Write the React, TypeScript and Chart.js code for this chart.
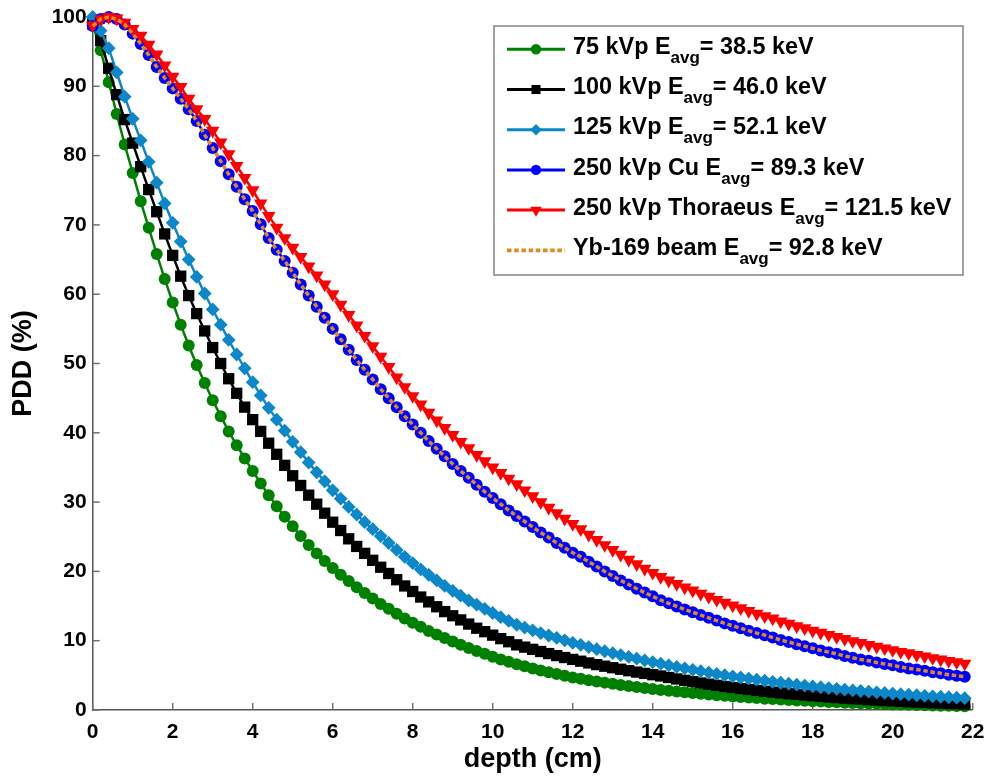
import React, { useEffect, useRef } from "react";
import { Chart, registerables } from "chart.js";

Chart.register(...registerables);

// ---------- DATA ----------
const depthCm = [
  0.0, 0.2, 0.4, 0.6, 0.8, 1.0, 1.2, 1.4, 1.6, 1.8,
  2.0, 2.2, 2.4, 2.6, 2.8, 3.0, 3.2, 3.4, 3.6, 3.8,
  4.0, 4.2, 4.4, 4.6, 4.8, 5.0, 5.2, 5.4, 5.6, 5.8,
  6.0, 6.2, 6.4, 6.6, 6.8, 7.0, 7.2, 7.4, 7.6, 7.8,
  8.0, 8.2, 8.4, 8.6, 8.8, 9.0, 9.2, 9.4, 9.6, 9.8,
  10.0, 10.2, 10.4, 10.6, 10.8, 11.0, 11.2, 11.4, 11.6, 11.8,
  12.0, 12.2, 12.4, 12.6, 12.8, 13.0, 13.2, 13.4, 13.6, 13.8,
  14.0, 14.2, 14.4, 14.6, 14.8, 15.0, 15.2, 15.4, 15.6, 15.8,
  16.0, 16.2, 16.4, 16.6, 16.8, 17.0, 17.2, 17.4, 17.6, 17.8,
  18.0, 18.2, 18.4, 18.6, 18.8, 19.0, 19.2, 19.4, 19.6, 19.8,
  20.0, 20.2, 20.4, 20.6, 20.8, 21.0, 21.2, 21.4, 21.6, 21.8,
];

const pdd75kVp = [
  99.0, 95.2, 90.6, 86.0, 81.6, 77.5, 73.4, 69.6, 65.8, 62.2,
  58.8, 55.6, 52.6, 49.8, 47.2, 44.7, 42.4, 40.2, 38.2, 36.3,
  34.5, 32.7, 31.0, 29.4, 27.9, 26.5, 25.1, 23.8, 22.6, 21.5,
  20.5, 19.5, 18.6, 17.7, 16.9, 16.1, 15.3, 14.6, 13.9, 13.2,
  12.6, 12.0, 11.4, 10.9, 10.4, 9.9, 9.4, 8.95, 8.5, 8.1,
  7.7, 7.3, 6.95, 6.6, 6.3, 6.0, 5.7, 5.45, 5.2, 4.95,
  4.7, 4.5, 4.3, 4.12, 3.95, 3.78, 3.62, 3.46, 3.31, 3.17,
  3.03, 2.9, 2.78, 2.66, 2.55, 2.44, 2.33, 2.23, 2.14, 2.05,
  1.96, 1.87, 1.79, 1.72, 1.64, 1.57, 1.5, 1.44, 1.38, 1.32,
  1.26, 1.21, 1.16, 1.11, 1.06, 1.01, 0.97, 0.93, 0.89, 0.85,
  0.81, 0.78, 0.74, 0.71, 0.68, 0.65, 0.62, 0.6, 0.57, 0.55,
];

const pdd100kVp = [
  99.0, 96.6, 92.6, 88.8, 85.2, 81.8, 78.4, 75.1, 71.9, 68.7,
  65.6, 62.6, 59.8, 57.2, 54.7, 52.3, 50.0, 47.8, 45.7, 43.7,
  41.9, 40.2, 38.5, 36.9, 35.3, 33.8, 32.4, 31.0, 29.7, 28.4,
  27.1, 25.9, 24.7, 23.6, 22.6, 21.6, 20.6, 19.7, 18.8, 17.9,
  17.1, 16.3, 15.6, 14.9, 14.2, 13.6, 13.0, 12.4, 11.8, 11.3,
  10.8, 10.3, 9.85, 9.4, 9.07, 8.75, 8.44, 8.14, 7.85, 7.57,
  7.3, 7.04, 6.79, 6.55, 6.32, 6.1, 5.88, 5.67, 5.47, 5.28,
  5.09, 4.91, 4.69, 4.48, 4.28, 4.09, 3.9, 3.73, 3.56, 3.4,
  3.25, 3.1, 2.96, 2.83, 2.7, 2.58, 2.46, 2.35, 2.25, 2.15,
  2.05, 1.96, 1.87, 1.79, 1.71, 1.63, 1.56, 1.49, 1.42, 1.36,
  1.3, 1.24, 1.18, 1.13, 1.08, 1.03, 0.98, 0.94, 0.9, 0.86,
];

const pdd125kVp = [
  100.0, 98.0, 95.5, 92.0, 88.5, 85.3, 82.2, 79.1, 76.1, 73.1,
  70.3, 67.6, 65.0, 62.5, 60.1, 57.8, 55.6, 53.4, 51.3, 49.3,
  47.3, 45.4, 43.6, 41.9, 40.3, 38.7, 37.2, 35.7, 34.3, 33.0,
  31.7, 30.5, 29.3, 28.2, 27.1, 26.1, 25.1, 24.1, 23.1, 22.1,
  21.2, 20.3, 19.5, 18.7, 17.9, 17.2, 16.5, 15.8, 15.2, 14.6,
  14.0, 13.4, 12.85, 12.3, 11.9, 11.5, 11.1, 10.75, 10.4, 10.05,
  9.7, 9.4, 9.08, 8.78, 8.48, 8.2, 7.92, 7.66, 7.4, 7.15,
  6.91, 6.68, 6.45, 6.22, 6.01, 5.8, 5.6, 5.4, 5.21, 5.03,
  4.86, 4.69, 4.53, 4.37, 4.22, 4.07, 3.93, 3.79, 3.65, 3.52,
  3.4, 3.28, 3.16, 3.05, 2.94, 2.84, 2.74, 2.64, 2.55, 2.46,
  2.37, 2.29, 2.21, 2.13, 2.05, 1.98, 1.91, 1.84, 1.78, 1.71,
];

const pdd250kVpCu = [
  98.7, 99.7, 100.0, 99.7, 98.9, 97.6, 96.1, 94.5, 92.8, 91.2,
  89.7, 88.2, 86.7, 85.0, 83.0, 81.1, 79.2, 77.3, 75.5, 73.7,
  72.0, 70.1, 68.1, 66.4, 64.8, 63.1, 61.4, 59.8, 58.2, 56.6,
  55.0, 53.5, 52.0, 50.5, 49.1, 47.7, 46.3, 45.0, 43.7, 42.4,
  41.2, 40.0, 38.8, 37.7, 36.6, 35.5, 34.5, 33.5, 32.5, 31.5,
  30.6, 29.7, 28.8, 28.0, 27.2, 26.4, 25.6, 24.9, 24.1, 23.4,
  22.7, 22.1, 21.4, 20.7, 20.0, 19.35, 18.7, 18.1, 17.5, 16.95,
  16.4, 15.85, 15.4, 14.95, 14.5, 14.1, 13.7, 13.3, 12.9, 12.5,
  12.15, 11.8, 11.45, 11.1, 10.8, 10.45, 10.1, 9.8, 9.5, 9.2,
  8.9, 8.6, 8.35, 8.1, 7.8, 7.55, 7.3, 7.1, 6.85, 6.65,
  6.45, 6.2, 6.0, 5.85, 5.65, 5.45, 5.3, 5.1, 4.95, 4.8,
];

const pdd250kVpThoraeus = [
  98.8, 99.7, 100.0, 99.8, 99.2, 98.3, 97.3, 96.0, 94.6, 93.0,
  91.4, 89.9, 88.2, 86.7, 85.3, 83.6, 81.9, 80.2, 78.5, 76.8,
  75.0, 73.1, 71.3, 69.6, 68.1, 66.7, 65.4, 64.0, 62.7, 61.4,
  60.0, 58.5, 57.0, 55.5, 54.0, 52.5, 51.0, 49.5, 48.0, 46.6,
  45.3, 44.1, 42.9, 41.8, 40.7, 39.7, 38.7, 37.8, 36.8, 35.9,
  35.0, 34.2, 33.4, 32.6, 31.7, 30.85, 30.0, 29.2, 28.4, 27.6,
  26.85, 26.1, 25.3, 24.55, 23.8, 23.1, 22.4, 21.7, 21.05, 20.4,
  19.8, 19.2, 18.7, 18.2, 17.7, 17.25, 16.8, 16.35, 15.9, 15.5,
  15.1, 14.7, 14.3, 13.9, 13.55, 13.2, 12.8, 12.45, 12.1, 11.8,
  11.45, 11.15, 10.85, 10.55, 10.25, 9.95, 9.7, 9.4, 9.15, 8.9,
  8.65, 8.4, 8.2, 7.95, 7.75, 7.5, 7.3, 7.1, 6.9, 6.7,
];

const pddYb169 = [
  98.7, 99.7, 100.0, 99.7, 98.9, 97.6, 96.1, 94.5, 92.8, 91.2,
  89.7, 88.2, 86.7, 85.0, 83.0, 81.1, 79.2, 77.3, 75.5, 73.7,
  72.0, 70.1, 68.1, 66.4, 64.8, 63.1, 61.4, 59.8, 58.2, 56.6,
  55.0, 53.5, 52.0, 50.5, 49.1, 47.7, 46.3, 45.0, 43.7, 42.4,
  41.2, 40.0, 38.8, 37.7, 36.6, 35.5, 34.5, 33.5, 32.5, 31.5,
  30.6, 29.7, 28.8, 28.0, 27.2, 26.4, 25.6, 24.9, 24.1, 23.4,
  22.7, 22.1, 21.4, 20.7, 20.0, 19.35, 18.7, 18.1, 17.5, 16.95,
  16.4, 15.85, 15.4, 14.95, 14.5, 14.1, 13.7, 13.3, 12.9, 12.5,
  12.15, 11.8, 11.45, 11.1, 10.8, 10.45, 10.1, 9.8, 9.5, 9.2,
  8.9, 8.6, 8.35, 8.1, 7.8, 7.55, 7.3, 7.1, 6.85, 6.65,
  6.45, 6.2, 6.0, 5.85, 5.65, 5.45, 5.3, 5.1, 4.95, 4.8,
];

const seriesNames = ["75 kVp", "100 kVp", "125 kVp", "250 kVp Cu", "250 kVp Thoraeus", "Yb-169 beam"];
const eAvgKeV = [38.5, 46.0, 52.1, 89.3, 121.5, 92.8];
const seriesValues = [pdd75kVp, pdd100kVp, pdd125kVp, pdd250kVpCu, pdd250kVpThoraeus, pddYb169];

const xTickValues = [0, 2, 4, 6, 8, 10, 12, 14, 16, 18, 20, 22];
const yTickValues = [0, 10, 20, 30, 40, 50, 60, 70, 80, 90, 100];

// ---------- STYLES ----------
type Marker = "circle" | "rect" | "rectRot" | "triangle" | null;
const seriesStyles: { color: string; marker: Marker; radius: number; legendRadius: number; width: number; dash?: number[] }[] = [
  { color: "#008000", marker: "circle", radius: 6, legendRadius: 5.2, width: 2.5 },
  { color: "#000000", marker: "rect", radius: 8, legendRadius: 6.4, width: 2.5 },
  { color: "#0C87C8", marker: "rectRot", radius: 6.9, legendRadius: 5.8, width: 2.5 },
  { color: "#0000FF", marker: "circle", radius: 6, legendRadius: 5.2, width: 2.5 },
  { color: "#FF0000", marker: "triangle", radius: 7.8, legendRadius: 6.6, width: 2.5 },
  { color: "#DC8A22", marker: null, radius: 0, legendRadius: 0, width: 3.5, dash: [4.5, 2.7] },
];

const FONT = '"Liberation Sans", Arial, Helvetica, sans-serif';

const CHART_LEFT = 92.7;
const CHART_RIGHT_PAD = 15.3;
const CHART_TOP = 17;
const X_AXIS_H = 66;

function drawMarker(ctx: CanvasRenderingContext2D, marker: Marker, x: number, y: number, r: number, color: string) {
  if (!marker) return;
  ctx.save();
  ctx.fillStyle = color;
  ctx.beginPath();
  if (marker === "circle") {
    ctx.arc(x, y, r, 0, Math.PI * 2);
  } else if (marker === "rect") {
    const s = Math.SQRT1_2 * r;
    ctx.rect(x - s, y - s, 2 * s, 2 * s);
  } else if (marker === "rectRot") {
    ctx.moveTo(x, y - r);
    ctx.lineTo(x + r, y);
    ctx.lineTo(x, y + r);
    ctx.lineTo(x - r, y);
    ctx.closePath();
  } else if (marker === "triangle") {
    const a = (a0: number) => [x + Math.sin(a0) * r, y - Math.cos(a0) * r];
    const p1 = a(Math.PI);
    const p2 = a(Math.PI + (2 * Math.PI) / 3);
    const p3 = a(Math.PI + (4 * Math.PI) / 3);
    ctx.moveTo(p1[0], p1[1]);
    ctx.lineTo(p2[0], p2[1]);
    ctx.lineTo(p3[0], p3[1]);
    ctx.closePath();
  }
  ctx.fill();
  ctx.restore();
}

const inwardTicksPlugin = {
  id: "inwardTicks",
  beforeDatasetsDraw(chart: any) {
    const { ctx, chartArea, scales } = chart;
    ctx.save();
    ctx.strokeStyle = "#707070";
    ctx.lineWidth = 1.5;
    scales.x.ticks.forEach((t: any) => {
      const px = scales.x.getPixelForValue(t.value);
      ctx.beginPath();
      ctx.moveTo(px, chartArea.bottom);
      ctx.lineTo(px, chartArea.bottom - 7);
      ctx.stroke();
    });
    scales.y.ticks.forEach((t: any) => {
      const py = scales.y.getPixelForValue(t.value);
      ctx.beginPath();
      ctx.moveTo(chartArea.left, py);
      ctx.lineTo(chartArea.left + 7, py);
      ctx.stroke();
    });
    ctx.restore();
  },
};

const legendPlugin = {
  id: "matlabLegend",
  afterDraw(chart: any) {
    const ctx: CanvasRenderingContext2D = chart.ctx;
    const bx = 494, by = 26, bw = 469, bh = 249;
    ctx.save();
    ctx.fillStyle = "#ffffff";
    ctx.fillRect(bx, by, bw, bh);
    ctx.strokeStyle = "#858585";
    ctx.lineWidth = 1.5;
    ctx.strokeRect(bx, by, bw, bh);
    seriesNames.forEach((name, i) => {
      const st = seriesStyles[i];
      const ly = 49.3 + i * 40.2;
      ctx.save();
      ctx.strokeStyle = st.color;
      ctx.lineWidth = st.dash ? 3.8 : 3;
      ctx.setLineDash(st.dash || []);
      ctx.beginPath();
      ctx.moveTo(507, ly);
      ctx.lineTo(565, ly);
      ctx.stroke();
      ctx.restore();
      drawMarker(ctx, st.marker, 536, ly, st.legendRadius, st.color);

      const base = ly + 4.7;
      let x = 573;
      ctx.fillStyle = "#000000";
      ctx.textBaseline = "alphabetic";
      ctx.textAlign = "left";
      const main = `${name} E`;
      ctx.font = `bold 23.4px ${FONT}`;
      ctx.fillText(main, x, base);
      x += ctx.measureText(main).width;
      ctx.font = `bold 17px ${FONT}`;
      ctx.fillText("avg", x, base + 9);
      x += ctx.measureText("avg").width;
      ctx.font = `bold 23.4px ${FONT}`;
      ctx.fillText(`= ${eAvgKeV[i].toFixed(1)} keV`, x, base);
    });
    ctx.restore();
  },
};

export default function App() {
  const canvasRef = useRef<HTMLCanvasElement | null>(null);

  useEffect(() => {
    const canvas = canvasRef.current;
    if (!canvas) return;

    const datasets = seriesValues.map((vals, i) => {
      const st = seriesStyles[i];
      return {
        label: seriesNames[i],
        data: depthCm.map((d, j) => ({ x: d, y: vals[j] })),
        borderColor: st.color,
        backgroundColor: st.color,
        borderWidth: st.width,
        borderDash: st.dash || [],
        pointStyle: st.marker || "circle",
        pointRadius: st.marker ? st.radius : 0,
        pointRotation: st.marker === "triangle" ? 180 : 0,
        pointBackgroundColor: st.color,
        pointBorderColor: st.color,
        pointBorderWidth: 0,
        tension: 0,
        fill: false,
        clip: false as any,
        order: seriesNames.length - i,
      };
    });

    const chart = new Chart(canvas, {
      type: "line",
      data: { datasets },
      options: {
        animation: false,
        responsive: false,
        events: [],
        layout: { padding: { left: 0, top: CHART_TOP, right: CHART_RIGHT_PAD, bottom: 0 } },
        plugins: {
          legend: { display: false },
          tooltip: { enabled: false },
          title: { display: false },
        },
        scales: {
          x: {
            type: "linear",
            min: 0,
            max: 22,
            afterBuildTicks: (scale: any) => {
              scale.ticks = xTickValues.map((v) => ({ value: v }));
            },
            afterFit: (scale: any) => {
              scale.height = X_AXIS_H;
              scale.paddingLeft = 0;
              scale.paddingRight = 0;
            },
            grid: { display: false, drawTicks: false, drawOnChartArea: false },
            border: { display: true, color: "#555555", width: 1.5 },
            ticks: {
              color: "#000000",
              font: { family: FONT, size: 21, weight: "bold" },
              padding: 10,
              maxRotation: 0,
              autoSkip: false,
            },
            title: {
              display: true,
              text: "depth (cm)",
              color: "#000000",
              font: { family: FONT, size: 27, weight: "bold" },
              padding: { top: 0, bottom: 0 },
            },
          },
          y: {
            type: "linear",
            min: 0,
            max: 100,
            afterBuildTicks: (scale: any) => {
              scale.ticks = yTickValues.map((v) => ({ value: v }));
            },
            afterFit: (scale: any) => {
              scale.width = CHART_LEFT;
              scale.paddingTop = 0;
              scale.paddingBottom = 0;
            },
            grid: { display: false, drawTicks: false, drawOnChartArea: false },
            border: { display: true, color: "#555555", width: 1.5 },
            ticks: {
              color: "#000000",
              font: { family: FONT, size: 21, weight: "bold" },
              padding: 6,
              autoSkip: false,
            },
            title: {
              display: true,
              text: "PDD (%)",
              color: "#000000",
              font: { family: FONT, size: 27, weight: "bold" },
              padding: { top: 7.4, bottom: 0 },
            },
          },
        },
      } as any,
      plugins: [inwardTicksPlugin, legendPlugin],
    });

    return () => {
      chart.destroy();
    };
  }, []);

  return (
    <div style={{ position: "absolute", left: 0, top: 0, width: 988, height: 776, background: "#ffffff" }}>
      <canvas ref={canvasRef} width={988} height={776} style={{ display: "block", width: 988, height: 776 }} />
    </div>
  );
}
